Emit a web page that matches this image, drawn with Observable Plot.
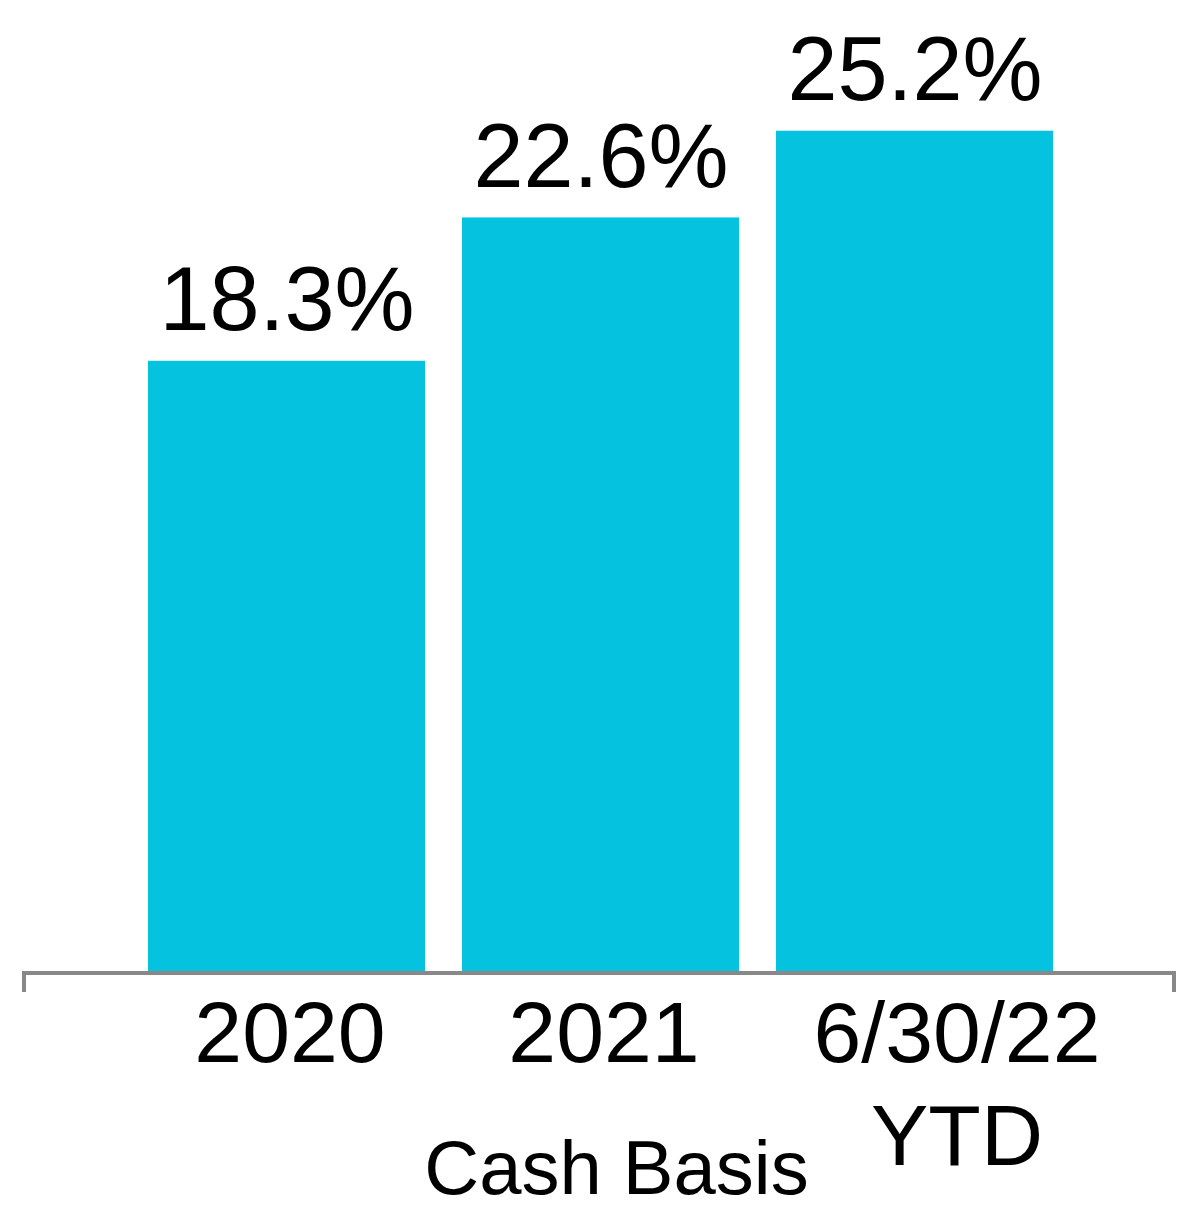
<!DOCTYPE html>
<html>
<head>
<meta charset="utf-8">
<script src="https://cdn.jsdelivr.net/npm/d3@7"></script>
<script src="https://cdn.jsdelivr.net/npm/@observablehq/plot@0.6"></script>
<style>
  html, body { margin: 0; padding: 0; background: #fff; }
  #chart svg { display: block; }
</style>
</head>
<body>
<div id="chart"></div>
<script>
const categories = ["2020", "2021", "6/30/22 YTD"];
const values = [18.3, 22.6, 25.2];
const xTitle = "Cash Basis";
const barColor = "#05c3de";
const axisColor = "#888888";

const data = categories.map((c, i) => ({category: c, value: values[i]}));
const fmtTick = (d) => d.replace(" ", "\n");

// End ticks + baseline drawn from scales/dimensions
const baseline = (index, scales, values, dimensions) => {
  const y0 = scales.y(0) + 2;
  const x0 = dimensions.marginLeft + 2;
  const x1 = dimensions.width - dimensions.marginRight - 2;
  const path = d3.create("svg:path")
    .attr("d", `M${x0},${y0 + 19}V${y0}H${x1}V${y0 + 19}`)
    .attr("fill", "none")
    .attr("stroke", axisColor)
    .attr("stroke-width", 4);
  return path.node();
};

const chart = Plot.plot({
  width: 1200,
  height: 1230,
  marginLeft: 22,
  marginRight: 24,
  marginTop: 4,
  marginBottom: 259,
  style: {fontFamily: "Arial, 'Liberation Sans', sans-serif", background: "#fff", color: "#000"},
  x: {domain: categories, paddingInner: 0.1176, paddingOuter: 0.3925, align: 0.506, axis: null},
  y: {domain: [0, 29], axis: null},
  marks: [
    Plot.barY(data, {x: "category", y: "value", fill: barColor}),
    baseline,
    Plot.text(data, {
      x: "category", y: "value",
      text: d => d.value.toFixed(1) + "%",
      lineAnchor: "bottom", dy: -31,
      fontSize: 90, fill: "#000"
    }),
    Plot.axisX(categories.slice(0, 2), {
      tickSize: 0, tickPadding: 17, fontSize: 86, lineHeight: 1.2,
      tickFormat: fmtTick, dx: 3, fill: "#000", label: null
    }),
    Plot.axisX(categories.slice(2), {
      tickSize: 0, tickPadding: 17, fontSize: 86, lineHeight: 1.2,
      tickFormat: fmtTick, dx: 42, fill: "#000", label: null
    }),
    Plot.text([xTitle], {
      frameAnchor: "bottom", lineAnchor: "bottom",
      dy: 222, dx: 17, fontSize: 76, fill: "#000"
    })
  ]
});
document.getElementById("chart").appendChild(chart);
</script>
</body>
</html>
